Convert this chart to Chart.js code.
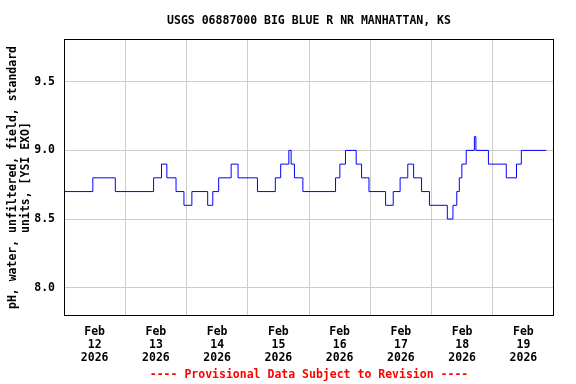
<!DOCTYPE html>
<html><head><meta charset="utf-8">
<script src="https://cdn.jsdelivr.net/npm/chart.js@4/dist/chart.umd.min.js"></script>
<style>html,body{margin:0;padding:0;background:#fff;overflow:hidden}#wrap{width:576px;height:384px;position:relative}</style>
</head><body><div id="wrap"><canvas id="c" width="576" height="384"></canvas></div>
<script>
const chartTitle = 'USGS 06887000 BIG BLUE R NR MANHATTAN, KS';
const yAxisTitle = ['pH, water, unfiltered, field, standard', 'units, [YSI EXO]'];
const footerText = '---- Provisional Data Subject to Revision ----';
// x values are hours since Feb 12 2026 00:00
const dayLabelHours = [12, 36, 60, 84, 108, 132, 156, 180];
const dayLabels = [['Feb','12','2026'],['Feb','13','2026'],['Feb','14','2026'],['Feb','15','2026'],['Feb','16','2026'],['Feb','17','2026'],['Feb','18','2026'],['Feb','19','2026']];
const dayBoundaryHours = [0, 24, 48, 72, 96, 120, 144, 168, 192];
const yTickValues = [8.0, 8.5, 9.0, 9.5];
const changeHours = [0, 11.3, 20.1, 35.1, 38.2, 40.3, 43.9, 47.0, 50.1, 56.3, 58.3, 60.6, 65.5, 68.2, 75.8, 82.8, 84.9, 88.1, 89.0, 90.3, 93.6, 106.4, 108.1, 110.3, 114.5, 116.6, 119.5, 126.0, 129.0, 131.7, 134.7, 137.0, 140.1, 143.2, 150.2, 152.4, 153.9, 154.9, 155.9, 157.6, 160.8, 161.4, 166.3, 173.3, 177.3, 179.2, 189.0];
const phValues = [8.7, 8.8, 8.7, 8.8, 8.9, 8.8, 8.7, 8.6, 8.7, 8.6, 8.7, 8.8, 8.9, 8.8, 8.7, 8.8, 8.9, 9.0, 8.9, 8.8, 8.7, 8.8, 8.9, 9.0, 8.9, 8.8, 8.7, 8.6, 8.7, 8.8, 8.9, 8.8, 8.7, 8.6, 8.5, 8.6, 8.7, 8.8, 8.9, 9.0, 9.1, 9.0, 8.9, 8.8, 8.9, 9.0, 9.0];

const FONT = '"DejaVu Sans Mono", "Liberation Mono", monospace';
const points = changeHours.map((h, i) => ({x: h, y: phValues[i]}));

const framePlugin = {
  id: 'frame',
  afterDraw(chart) {
    const {ctx, chartArea: a} = chart;
    ctx.save();
    ctx.strokeStyle = '#000';
    ctx.lineWidth = 1;
    ctx.strokeRect(Math.round(a.left) + 0.5, Math.round(a.top) + 0.5, Math.round(a.right - a.left) - 1, Math.round(a.bottom - a.top) - 1);
    ctx.font = 'bold 11.5px ' + FONT;
    ctx.textAlign = 'center';
    ctx.textBaseline = 'middle';
    const cx = (a.left + a.right) / 2;
    ctx.fillStyle = '#000';
    ctx.fillText(chartTitle, cx, 21);
    ctx.fillStyle = '#ff0000';
    ctx.fillText(footerText, cx, 375);
    ctx.restore();
  }
};

new Chart(document.getElementById('c'), {
  type: 'line',
  data: {
    datasets: [{
      data: points,
      borderColor: '#0000ff',
      borderWidth: 1,
      pointRadius: 0,
      stepped: true,
      fill: false
    }]
  },
  options: {
    responsive: false,
    animation: false,
    devicePixelRatio: 1,
    layout: {padding: {left: 0, top: 39, right: 22, bottom: 0}},
    plugins: {legend: {display: false}, tooltip: {enabled: false}, title: {display: false}},
    scales: {
      x: {
        type: 'linear',
        min: 0, max: 192,
        afterFit(s) { s.height = 68; },
        afterBuildTicks(s) {
          const vals = dayBoundaryHours.concat(dayLabelHours).sort((a, b) => a - b);
          s.ticks = vals.map(v => ({value: v}));
        },
        grid: {
          drawTicks: false,
          color: c => (c.tick && c.tick.value % 24 === 0 && c.tick.value > 0 && c.tick.value < 192) ? '#cccccc' : 'rgba(0,0,0,0)',
          lineWidth: 1
        },
        border: {display: false},
        ticks: {
          autoSkip: false,
          maxRotation: 0,
          padding: 10,
          color: '#000',
          font: {family: FONT, size: 11.5, weight: 'bold', lineHeight: 1.113},
          callback: v => { const i = dayLabelHours.indexOf(v); return i >= 0 ? dayLabels[i] : ''; }
        }
      },
      y: {
        type: 'linear',
        min: 7.794, max: 9.811,
        afterFit(s) { s.width = 64; },
        afterBuildTicks(s) { s.ticks = yTickValues.map(v => ({value: v})); },
        grid: {drawTicks: false, color: '#cccccc', lineWidth: 1},
        border: {display: false},
        ticks: {
          padding: 9,
          color: '#000',
          font: {family: FONT, size: 11.5, weight: 'bold'},
          callback: v => Number(v).toFixed(1)
        },
        title: {
          display: true,
          text: yAxisTitle,
          color: '#000',
          font: {family: FONT, size: 11.5, weight: 'bold', lineHeight: 1.15},
          padding: {top: 6.5, bottom: 0}
        }
      }
    }
  },
  plugins: [framePlugin]
});
</script></body></html>
